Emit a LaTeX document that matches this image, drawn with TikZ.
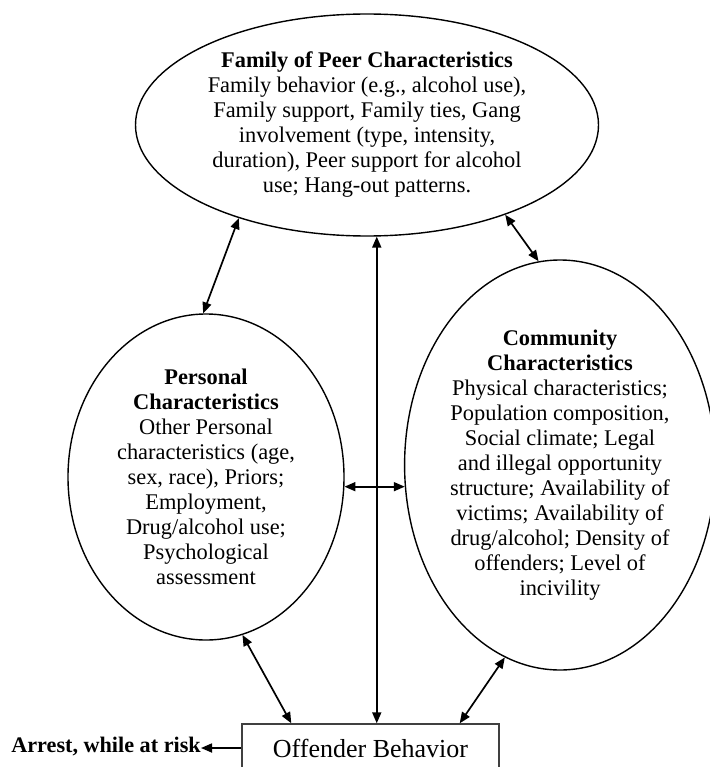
\documentclass[tikz,border=0pt]{standalone}
\usepackage{fontspec}
\setmainfont{Liberation Serif}
\usetikzlibrary{shapes.geometric,arrows.meta}
\begin{document}
\begin{tikzpicture}[x=1pt,y=-1pt,
  bubble/.style={draw, ellipse, line width=1.4pt, inner sep=0pt, align=center,
    font=\fontsize{22.4}{25}\selectfont},
  tip/.tip={Triangle[length=11pt,width=9pt]},
  both/.style={line width=1.7pt, tip-tip},
  single/.style={line width=1.7pt, -tip},
  outcome/.style={draw=black!75, line width=1.4pt, minimum width=257pt,
    minimum height=48pt, inner sep=0pt, font=\fontsize{26}{30}\selectfont}]
\useasboundingbox (0,0) rectangle (709,767);

% the three groups of characteristics
\node[bubble, minimum width=463pt, minimum height=222pt] (peer) at (367,125)
  {\textbf{Family of Peer Characteristics}\\
   Family behavior (e.g., alcohol use),\\
   Family support, Family ties, Gang\\
   involvement (type, intensity,\\
   duration), Peer support for alcohol\\
   use; Hang-out patterns.};

\node[bubble, minimum width=276pt, minimum height=326pt] (pers) at (206,477)
  {\textbf{Personal}\\
   \textbf{Characteristics}\\
   Other Personal\\
   characteristics (age,\\
   sex, race), Priors;\\
   Employment,\\
   Drug/alcohol use;\\
   Psychological\\
   assessment};

\node[bubble, minimum width=310pt, minimum height=410pt] (comm) at (560,465)
  {\textbf{Community}\\
   \textbf{Characteristics}\\
   Physical characteristics;\\
   Population composition,\\
   Social climate; Legal\\
   and illegal opportunity\\
   structure; Availability of\\
   victims; Availability of\\
   drug/alcohol; Density of\\
   offenders; Level of\\
   incivility};

% outcome box and the arrest measure
\node[outcome] (beh) at (370.5,748) {Offender Behavior};
\node[anchor=base east, inner sep=0pt, font=\fontsize{22.2}{25}\selectfont\bfseries]
  (arrest) at (201,752) {Arrest, while at risk};

% links
\draw[both] (pers.91) -- (peer.216.6);
\draw[both] (peer.327) -- (comm.96.9);
\draw[both] (pers.-4) -- (pers.-4 -| comm.188);
\draw[both] (peer.275) -- (peer.275 |- beh.north);
\draw[both] (pers.283.3) -- ([xshift=50pt]beh.north west);
\draw[both] (comm.254.9) -- ([xshift=-40pt]beh.north east);
\draw[single] (beh.west) -- (beh.west -| arrest.east);
\end{tikzpicture}
\end{document}
